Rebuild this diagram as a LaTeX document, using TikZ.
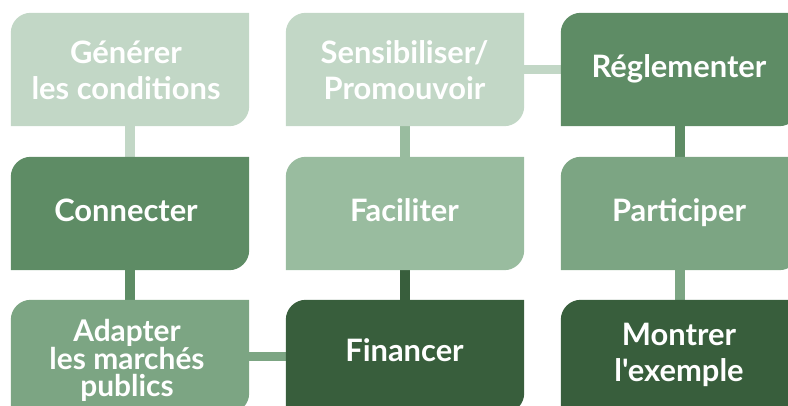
\documentclass[tikz,border=0pt]{standalone}
\usepackage{fontspec}
\setmainfont{Lato}[Ligatures=TeXOff]
\usetikzlibrary{calc}
\pgfdeclarelayer{background}
\pgfsetlayers{background,main}
\definecolor{cLight}{HTML}{C2D7C6}
\definecolor{cMid}{HTML}{5E8C65}
\definecolor{cFac}{HTML}{99BC9F}
\definecolor{cPart}{HTML}{7CA583}
\definecolor{cDark}{HTML}{385E3C}
\newcommand\shapefill[2]{%
  \fill[#2] (#1.south west) -- ($(#1.north west)+(0,-20)$)
    arc[start angle=180,end angle=90,radius=20bp] -- (#1.north east)
    -- ($(#1.south east)+(0,20)$)
    arc[start angle=0,end angle=-90,radius=20bp] -- cycle;}
% #1 raise of first baseline above centre, #2 baselineskip, #3 right kern, #4 rows
\newcommand\boxtext[4]{\raisebox{#1}[0pt][0pt]{\vtop{\baselineskip=#2\lineskiplimit=-100pt\lineskip=0pt
  \halign{\hfil##\hfil\cr#4\crcr}}\kern#3}}
\begin{document}
\begin{tikzpicture}[x=1bp,y=1bp,
  box/.style={rectangle, minimum width=238bp, minimum height=113bp, inner sep=0pt,
    text=white, font=\bfseries\fontsize{31}{36}\selectfont},
  conn/.style={line width=9.5bp}]
\useasboundingbox (0,0) rectangle (788,405);
\node[box] (gen) at (130,335.5) {\boxtext{6.2bp}{36bp}{8bp}{Générer\cr les conditions}};
\node[box] (sens) at (405,335.5) {\boxtext{6.2bp}{36bp}{1bp}{Sensibiliser/\cr Promouvoir}};
\node[box] (regl) at (680,335.5) {\boxtext{-7.8bp}{36bp}{2bp}{Réglementer}};
\node[box] (con) at (130,191.5) {\boxtext{-8.2bp}{36bp}{8bp}{Connecter}};
\node[box] (fac) at (405,191.5) {\boxtext{-8.2bp}{36bp}{1bp}{Faciliter}};
\node[box] (part) at (680,191.5) {\boxtext{-8.2bp}{36bp}{2bp}{Participer}};
\node[box, font=\bfseries\fontsize{30}{27.5}\selectfont] (adap) at (130,48.5) {\boxtext{14.8bp}{27.5bp}{6bp}{Adapter\cr les marchés\cr publics}};
\node[box] (fin) at (405,48.5) {\boxtext{-5.2bp}{36bp}{1bp}{Financer}};
\node[box] (mont) at (680,48.5) {\boxtext{11.5bp}{36bp}{2bp}{Montrer\cr l'exemple}};
\begin{pgfonlayer}{background}
\draw[conn, cLight] (gen) -- (con);
\draw[conn, cMid] (con) -- (adap);
\draw[conn, cPart] (adap) -- (fin);
\draw[conn, cLight] (sens) -- (regl);
\draw[conn, cFac] (sens) -- (fac);
\draw[conn, cDark] (fac) -- (fin);
\draw[conn, cMid] (regl) -- (part);
\draw[conn, cPart] (part) -- (mont);
\shapefill{gen}{cLight}
\shapefill{sens}{cLight}
\shapefill{regl}{cMid}
\shapefill{con}{cMid}
\shapefill{fac}{cFac}
\shapefill{part}{cPart}
\shapefill{adap}{cPart}
\shapefill{fin}{cDark}
\shapefill{mont}{cDark}
\end{pgfonlayer}
\end{tikzpicture}
\end{document}
